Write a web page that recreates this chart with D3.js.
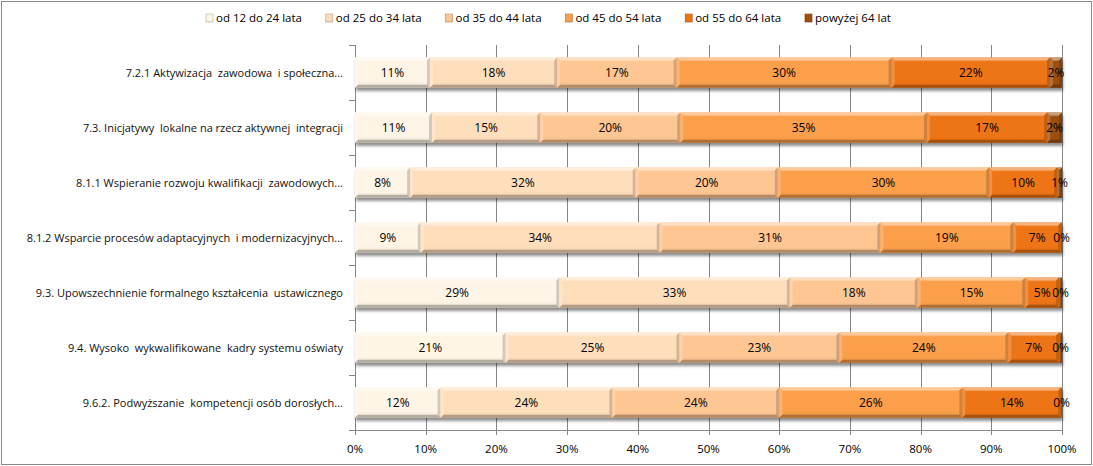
<!DOCTYPE html>
<html><head><meta charset="utf-8">
<script src="https://cdn.jsdelivr.net/npm/d3@7"></script>
<style>
html,body{margin:0;padding:0;background:#fff;}
svg{display:block;font-family:"Open Sans","Noto Sans",sans-serif;}
</style></head>
<body>
<svg id="chart" width="1093" height="466"></svg>
<script>
const categories = [
  "7.2.1 Aktywizacja  zawodowa  i społeczna...",
  "7.3. Inicjatywy  lokalne na rzecz aktywnej  integracji",
  "8.1.1 Wspieranie rozwoju kwalifikacji  zawodowych...",
  "8.1.2 Wsparcie procesów adaptacyjnych  i modernizacyjnych...",
  "9.3. Upowszechnienie formalnego kształcenia  ustawicznego",
  "9.4. Wysoko  wykwalifikowane  kadry systemu oświaty",
  "9.6.2. Podwyższanie  kompetencji osób dorosłych..."
];
const seriesNames = ["od 12 do 24 lata","od 25 do 34 lata","od 35 do 44 lata","od 45 do 54 lata","od 55 do 64 lata","powyżej 64 lat"];
const s1 = [0.106, 0.109, 0.078, 0.093, 0.289, 0.213, 0.121];
const s2 = [0.180, 0.153, 0.319, 0.338, 0.326, 0.246, 0.243];
const s3 = [0.169, 0.198, 0.201, 0.312, 0.181, 0.226, 0.236];
const s4 = [0.304, 0.349, 0.299, 0.188, 0.152, 0.239, 0.259];
const s5 = [0.224, 0.170, 0.096, 0.068, 0.048, 0.072, 0.140];
const s6 = [0.017, 0.021, 0.007, 0.001, 0.004, 0.004, 0.001];
const seriesValues = [s1, s2, s3, s4, s5, s6];
const xTicks = [0,0.1,0.2,0.3,0.4,0.5,0.6,0.7,0.8,0.9,1.0];
const colors = ["#FFF5E6","#FFDEBC","#FEC693","#FB9F4B","#EE7414","#9E500F"];

const svg = d3.select("#chart");
const W = 1093, H = 466;
svg.append("rect").attr("x",1.5).attr("y",1.5).attr("width",W-3).attr("height",H-3)
  .attr("fill","#fff").attr("stroke","#8a8a8a").attr("stroke-width",1);

const defs = svg.append("defs");
const f = defs.append("filter").attr("id","shadow").attr("x","-5%").attr("y","-20%").attr("width","110%").attr("height","160%");
f.append("feGaussianBlur").attr("in","SourceAlpha").attr("stdDeviation",1.6);
f.append("feOffset").attr("dx",1).attr("dy",3).attr("result","ob");
f.append("feComponentTransfer").append("feFuncA").attr("type","linear").attr("slope",0.45);
const m = f.append("feMerge"); m.append("feMergeNode"); m.append("feMergeNode").attr("in","SourceGraphic");

colors.forEach((c,i)=>{
  const g = defs.append("linearGradient").attr("id","g"+i).attr("x1",0).attr("y1",0).attr("x2",0).attr("y2",1);
  g.append("stop").attr("offset","0%").attr("stop-color",d3.interpolateRgb(c,"#fff")(0.25));
  g.append("stop").attr("offset","15%").attr("stop-color",c);
  g.append("stop").attr("offset","80%").attr("stop-color",c);
  g.append("stop").attr("offset","100%").attr("stop-color",d3.interpolateRgb(c,"#000")(0.08));
});

const x = d3.scaleLinear().domain([0,1]).range([355,1062]);
const y = d3.scaleBand().domain(categories).range([45,430]).paddingInner(0.45).paddingOuter(0.225);

// gridlines
svg.append("g").selectAll("line").data(xTicks).join("line")
  .attr("x1",d=>Math.round(x(d))+0.5).attr("x2",d=>Math.round(x(d))+0.5)
  .attr("y1",45).attr("y2",435).attr("stroke","#868686").attr("stroke-width",1);

// y axis line & ticks
svg.append("line").attr("x1",355.5).attr("x2",355.5).attr("y1",45).attr("y2",430).attr("stroke","#868686");
svg.append("line").attr("x1",350).attr("x2",1062).attr("y1",430.5).attr("y2",430.5).attr("stroke","#868686");
const bounds = d3.range(categories.length+1).map(k=>45 + k*y.step());
svg.append("g").selectAll("line").data(bounds).join("line")
  .attr("x1",349).attr("x2",355).attr("y1",d=>Math.round(d)+0.5).attr("y2",d=>Math.round(d)+0.5).attr("stroke","#868686");

// x tick labels
svg.append("g").selectAll("text").data(xTicks).join("text")
  .attr("x",d=>x(d)).attr("y",453).attr("text-anchor","middle")
  .attr("font-size",11.5).attr("fill","#000").text(d3.format(".0%"));

// y labels
svg.append("g").selectAll("text").data(categories).join("text")
  .attr("x",343).attr("y",d=>y(d)+y.bandwidth()/2+4).attr("text-anchor","end")
  .attr("font-size",11).attr("fill","#111").attr("xml:space","preserve")
  .style("white-space","pre").text(d=>d);

// bars
const stackData = categories.map((c,ci)=>{
  let acc=0; return seriesValues.map((s,si)=>{ const v=s[ci]; const r={c,si,v,x0:acc,x1:acc+v}; acc+=v; return r;});
});
const bars = svg.append("g").attr("filter","url(#shadow)");
const b = 3;
stackData.forEach(row=>{
  row.forEach(d=>{
    const X0=x(d.x0), X1=x(d.x1), Y0=y(d.c), Y1=y(d.c)+y.bandwidth();
    const w = X1-X0;
    const g = bars.append("g");
    const c = colors[d.si];
    g.append("rect").attr("x",X0).attr("y",Y0).attr("width",w).attr("height",Y1-Y0).attr("fill",`url(#g${d.si})`);
    const bb = Math.min(b, w/2);
    const lighter = d3.interpolateRgb(c,"#fff")(0.45);
    const light2 = d3.interpolateRgb(c,"#fff")(0.2);
    const darker = d3.interpolateRgb(c,"#000")(0.18);
    const darker2 = d3.interpolateRgb(c,"#000")(0.3);
    g.append("polygon").attr("points",[[X0,Y0],[X1,Y0],[X1-bb,Y0+bb],[X0+bb,Y0+bb]].join(" ")).attr("fill",lighter);
    g.append("polygon").attr("points",[[X0,Y0],[X0+bb,Y0+bb],[X0+bb,Y1-bb],[X0,Y1]].join(" ")).attr("fill",light2);
    g.append("polygon").attr("points",[[X1,Y0],[X1,Y1],[X1-bb,Y1-bb],[X1-bb,Y0+bb]].join(" ")).attr("fill",darker);
    g.append("polygon").attr("points",[[X0,Y1],[X1,Y1],[X1-bb,Y1-bb],[X0+bb,Y1-bb]].join(" ")).attr("fill",darker2);
  });
});

// value labels
const fmt = d3.format(".0%");
svg.append("g").selectAll("text").data(stackData.flat()).join("text")
  .attr("x",d=>(x(d.x0)+x(d.x1))/2).attr("y",d=>y(d.c)+y.bandwidth()/2+4.5)
  .attr("text-anchor","middle").attr("font-size",12).attr("fill","#000")
  .text(d=>fmt(d.v));

// legend
const lg = svg.append("g");
seriesNames.forEach((n,i)=>{
  const lx = 206 + i*119.8;
  const gg = lg.append("g");
  gg.append("rect").attr("x",lx).attr("y",14).attr("width",7).attr("height",8).attr("fill",`url(#g${i})`)
    .attr("stroke",d3.interpolateRgb(colors[i],"#000")(0.3)).attr("stroke-width",0.6);
  gg.append("text").attr("x",lx+10).attr("y",22).attr("font-size",11.5).attr("fill","#000").text(n);
});
</script>
</body></html>
